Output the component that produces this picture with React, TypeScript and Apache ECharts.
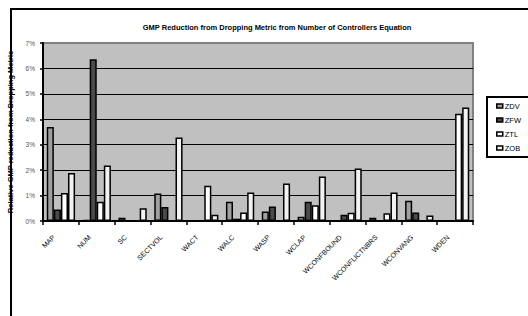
import React, { useEffect, useRef } from "react";
import * as echarts from "echarts";

const categories = ["MAP", "NUM", "SC", "SECTVOL", "WACT", "WALC", "WASP", "WCLAP", "WCONFBOUND", "WCONFLICTNBRS", "WCONVANG", "WDEN"];
const zdv = [3.70, 0.03, 0.13, 1.08, 0, 0.76, 0.37, 0.17, 0, 0.13, 0.80, 0];
const zfw = [0.45, 6.36, 0, 0.55, 0, 0.09, 0.57, 0.76, 0.25, 0, 0.33, 0];
const ztl = [1.10, 0.76, 0, 0, 1.39, 0.33, 0, 0.62, 0.32, 0.30, 0, 4.22];
const zob = [1.89, 2.18, 0.50, 3.28, 0.25, 1.12, 1.47, 1.75, 2.06, 1.12, 0.22, 4.46];
const yTicks = [0, 1, 2, 3, 4, 5, 6, 7];

const FONT = "Liberation Sans, Arial, sans-serif";

export default function App() {
  const ref = useRef<HTMLDivElement>(null);
  useEffect(() => {
    if (!ref.current) return;
    const chart = echarts.init(ref.current, undefined, { renderer: "svg" });
    const mk = (name: string, data: number[], color: string) => ({
      name,
      type: "bar",
      data,
      barGap: "0%",
      barCategoryGap: "21%",
      itemStyle: { color, borderColor: "#000", borderWidth: 1.5 },
    });
    chart.setOption({
      animation: false,
      backgroundColor: "#fff",
      textStyle: { fontFamily: FONT },
      title: {
        text: "GMP Reduction from Dropping Metric from Number of Controllers Equation",
        left: 272,
        top: 18,
        textAlign: "center",
        textStyle: { fontSize: 7.5, fontWeight: "bold", color: "#000", fontFamily: FONT },
      },
      graphic: [
        {
          type: "rect",
          shape: { x: 11, y: 9, width: 600, height: 400 },
          style: { fill: "none", stroke: "#000", lineWidth: 2 },
          z: -10,
          silent: true,
        },
      ],
      legend: {
        orient: "vertical",
        left: 487,
        top: 97,
        width: 40,
        padding: [4, 11, 4, 9],
        borderColor: "#000",
        borderWidth: 2,
        icon: "rect",
        itemWidth: 6,
        itemHeight: 4,
        itemGap: 4,
        textStyle: { fontSize: 7.5, color: "#000", lineHeight: 10, fontFamily: FONT, padding: [0, 0, 0, -3] },
        itemStyle: { borderColor: "#000", borderWidth: 1.5 },
        data: ["ZDV", "ZFW", "ZTL", "ZOB"],
      },
      grid: {
        left: 43,
        right: 55,
        top: 43,
        bottom: 95,
        containLabel: false,
        outerBoundsMode: "none",
        show: true,
        backgroundColor: "#c0c0c0",
        borderColor: "#808080",
        borderWidth: 2,
      },
      xAxis: {
        type: "category",
        data: categories,
        axisLine: { lineStyle: { color: "#000", width: 2 } },
        axisTick: { show: true, length: 4, lineStyle: { color: "#000", width: 1.5 } },
        axisLabel: {
          rotate: 45,
          fontSize: 7,
          color: "#000",
          margin: 8,
          padding: [0, 10, 0, 0],
          interval: 0,
          fontFamily: FONT,
        },
      },
      yAxis: {
        type: "value",
        min: yTicks[0],
        max: yTicks[yTicks.length - 1],
        interval: 1,
        name: "Relative GMP reduction from Dropping Metric",
        nameLocation: "middle",
        nameGap: 25,
        nameTextStyle: { fontSize: 7.5, fontWeight: "bold", color: "#000", fontFamily: FONT },
        axisLine: { show: true, lineStyle: { color: "#000", width: 2 } },
        axisTick: { show: true, length: 3, lineStyle: { color: "#000", width: 1.5 } },
        axisLabel: { formatter: "{value}%", fontSize: 6.5, color: "#555", margin: 8, fontFamily: FONT },
        splitLine: { show: true, showMaxLine: false, lineStyle: { color: "#000", width: 1 } },
      },
      series: [
        mk("ZDV", zdv, "#a0a0a0"),
        mk("ZFW", zfw, "#4a4a4a"),
        mk("ZTL", ztl, "#ffffff"),
        mk("ZOB", zob, "#f2f2f2"),
      ],
    });
    return () => chart.dispose();
  }, []);
  return (
    <div
      ref={ref}
      style={{ position: "fixed", left: 0, top: 0, width: 528, height: 316 }}
    />
  );
}
